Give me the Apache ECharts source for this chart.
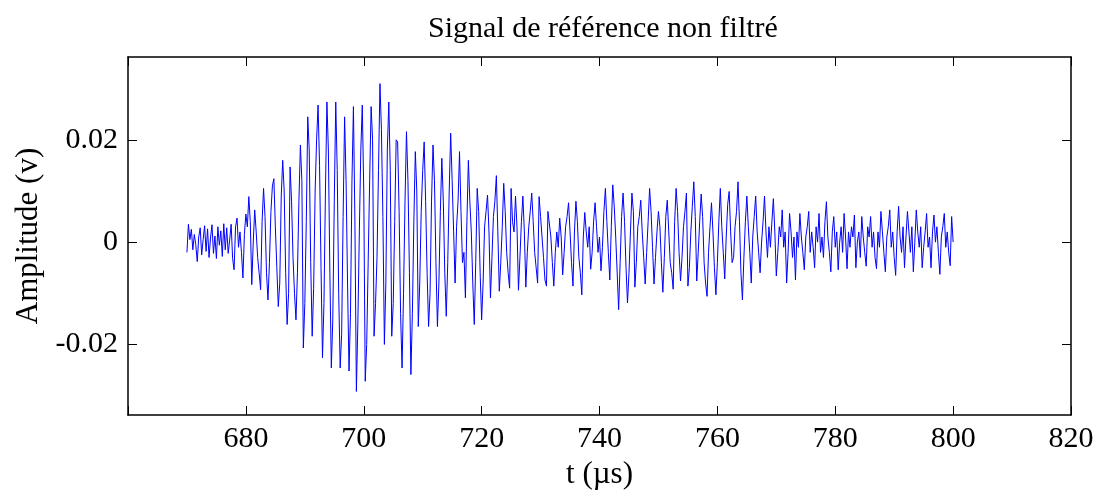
<!DOCTYPE html>
<html>
<head>
<meta charset="utf-8">
<script src="https://cdn.jsdelivr.net/npm/echarts@6/dist/echarts.min.js"></script>
<style>
html,body{margin:0;padding:0;background:#fff;}
#chart{width:1101px;height:493px;}
</style>
</head>
<body>
<div id="chart"></div>
<script>
// ---- data ----
const titleText = 'Signal de référence non filtré';
const xAxisName = 't (µs)';
const yAxisName = 'Amplitude (v)';
const xTickValues = [660, 680, 700, 720, 740, 760, 780, 800, 820];
const yTickValues = [-0.02, 0, 0.02];
const yTickLabels = ['-0.02', '0', '0.02'];
const sampleStart = 670;   // µs, first sample time
const sampleStep = 0.25;   // µs between samples
// amplitude in millivolts, one value per sample
const amplitudeMilliVolts = [
  -2, 3.5, 0.5, 2.5,   -1.5, 1.5, -0.5, -3.8,   1, 2.8, -2.5, 0.5,   3.2, -1.8, 2.6, -3,
  0.8, 3.4, -2.2, 1.2,   -3.2, 3, -0.6, 2.2,   -2.8, 3.6, -1.5, 2.8,   -2.2, 0.4, 3.5, -3.2,
  -5.4, 3, 4.7, -1,   2, -2, -7, 1.5,   5.5, 3, 8.9, 4,   -8.3, 0, 6.3, 2,
  -3, -6, -9.3, 4,   10.5, 5, -6, -11.3,   -4, 6, 11, 12.4,   3, -5, -12.6, -8,
  9, 16, 10, -6,   -16.1, -10, 14.7, 8,   -3, -10, -15.2, -6,   8, 19, 12, -20.7,
  -12, 4, 24.5, 18,   -4, -18.4, -9, 10,   20, 26.8, 15, -5,   -22.6, -12, 10, 27.4,
  18, -6, -24.6, -15,   8, 27.4, 14, -10,   -24.6, -18, 5, 24.5,   12, -8, -25.2, -14,
  12, 26.5, 4, -29.2,   -16, 2, 18, 26.8,   10, -27.2, -20, -4,   12, 26.5, 20, -18.4,
  -12, -3, 14, 31,   22, 5, -20, -8,   18, 27.4, 14, -18.4,   -12, 4, 20, 19.6,
  6, -14, -24.6, -10,   8, 21.6, 12, -6,   -25.9, -14, 4, 17.7,   10, -16.5, -8, 6,
  14, 19.6, 8, -6,   -16.5, -10, 8, 19,   12, -4, -16.5, -8,   6, 16.4, 8, -6,
  -14.5, -4, 10, 21.3,   12, 2, -8, 3,   8, 17.7, 6, -4,   -2, -10.9, 4, 16,
  8, 2, -8, -16.1,   -4, 10.5, 6, -6,   -15.2, -8, 3, 6,   9.2, 2, -10.9, -3,
  5, 8, 13, 2,   -9.6, -4, 3, 11.5,   6, -2, -6, -9,   10.5, 4, 2, 9,
  3, -9.4, -3, 4,   9, 2, -8.8, -2,   3, 6, 9.6, 4,   -2, -5, -8, 8.9,
  5, 1, -3, -7.4,   -8.6, 6, 5.7, 1,   -4, -8.6, -2, 2,   -1, 4.7, 1, -6.4,
  -2, 3, 5, 7.7,   2, -4, -8.6, 2,   8, 4, -3, -6,   -10.3, 1, 5.8, 2,
  -1, 3, -5.3, -2,   4, 7.7, 3, -2,   1, -5.6, -1, 6,   10.5, 4, -2, -7.4,
  3, 11.2, 7, 1,   -6, -13.2, -4, 5,   9.6, 4, -5, -11.9,   -6, 2, 9.6, 6,
  -8.8, -4, 3, 5,   8.2, 2, -3, -8.2,   -2, 4, 10.5, 6,   -1, -8.2, -3, 2,
  6, 3, -4, -9.8,   -3, 5, 8.2, 2,   -4, -6, -9.2, 4,   10.5, 6, -2, -7.6,
  -3, 3, 6, 9.6,   -8.6, -5, 2, 7,   11.8, 5, -7.6, -2,   4, 9.4, 5, -4,
  -8, -10.6, -2, 3,   7.7, 2, -5, -10.3,   -4, 4, 10.5, 3,   -2, -7.2, 1, 7.4,
  9.9, 2, -4, -3,   3, 6, 11.8, 4,   -6, -11.3, -3, 4,   9, 3, -2, -8,
  1, 5, 9, 2,   -2, -6, 0, 4,   9, 2, -3, 3,   -1, 4, 8.5, 2,
  -6.6, -2, 3, 1,   6.3, -1, 2, -8,   -2, 5.6, 2, -3,   1, -7.4, 2, -1,
  5.6, 1, -2, -5.4,   1, 3, 6, -2,   2, -1, -5, 3,   0, 5.6, -2, 1,
  -3, 4, 7.9, 1,   -2, -5.8, 2, 5,   -1, 2, -5.4, 0,   3, -2, 5.6, 1,
  -5.2, 2, -1, 3,   1, 5.3, -5, 0,   2, -3, 5, 1,   -2, -4.7, 3, 1,
  5, -1, 2, -3,   -5.2, 2, -1, 6,   2, -2, -5.8, 1,   3, 6.3, -1, 2,
  -3, -6.5, 2, 7,   1, -2, 3, -5,   1, 6, 2, -2,   3, -5.8, 0, 6.3,
  2, -1, 3, -5,   -1, 2, 5.6, -1,   1, -5, 2, 5.3,   0, 3, -2, -6.3,
  1, 3, 5.6, -1,   2, -2, -4.6, 5,
  0
];

// ---- build series points ----
const signalPoints = amplitudeMilliVolts.map((mv, i) => [sampleStart + i * sampleStep, mv / 1000]);

const serif = 'Liberation Serif';
const axisColor = '#000';

const chart = echarts.init(document.getElementById('chart'), null, {renderer: 'canvas'});
chart.setOption({
  animation: false,
  backgroundColor: '#fff',
  title: {
    text: titleText,
    left: 598,
    top: 9,
    textAlign: 'center',
    textStyle: {fontFamily: serif, fontSize: 30, fontWeight: 'normal', color: '#000'}
  },
  grid: {left: 128, right: 30, top: 57, bottom: 78, containLabel: false, outerBoundsMode: 'none'},
  xAxis: [
    {
      type: 'value', position: 'bottom', min: 660, max: 820, interval: 20,
      name: xAxisName, nameLocation: 'middle', nameGap: 44,
      nameTextStyle: {fontFamily: serif, fontSize: 31, color: '#000'},
      axisLine: {show: true, onZero: false, lineStyle: {color: axisColor, width: 1.5}},
      axisTick: {show: true, inside: true, length: 9, lineStyle: {color: axisColor, width: 1}},
      axisLabel: {
        show: true, margin: 9, fontFamily: serif, fontSize: 30, color: '#000',
        formatter: v => (v === 660 ? '' : String(v))
      },
      splitLine: {show: false}
    },
    {
      type: 'value', position: 'top', min: 660, max: 820, interval: 20,
      axisLine: {show: true, onZero: false, lineStyle: {color: axisColor, width: 1.5}},
      axisTick: {show: true, inside: true, length: 9, lineStyle: {color: axisColor, width: 1}},
      axisLabel: {show: false},
      splitLine: {show: false}
    }
  ],
  yAxis: [
    {
      type: 'value', position: 'left', min: -0.0338, max: 0.0362,
      name: yAxisName, nameLocation: 'middle', nameGap: 76, nameRotate: 90,
      nameTextStyle: {fontFamily: serif, fontSize: 31, color: '#000'},
      axisLine: {show: true, onZero: false, lineStyle: {color: axisColor, width: 1.5}},
      axisTick: {show: true, inside: true, length: 9, customValues: yTickValues, lineStyle: {color: axisColor, width: 1}},
      axisLabel: {
        show: true, margin: 10, fontFamily: serif, fontSize: 30, color: '#000',
        customValues: yTickValues,
        formatter: v => {
          const idx = yTickValues.findIndex(t => Math.abs(t - v) < 1e-9);
          return idx >= 0 ? yTickLabels[idx] : '';
        }
      },
      splitLine: {show: false}
    },
    {
      type: 'value', position: 'right', min: -0.0338, max: 0.0362,
      axisLine: {show: true, onZero: false, lineStyle: {color: axisColor, width: 1.5}},
      axisTick: {show: true, inside: true, length: 9, customValues: yTickValues, lineStyle: {color: axisColor, width: 1}},
      axisLabel: {show: false},
      splitLine: {show: false}
    }
  ],
  series: [{
    type: 'line',
    xAxisIndex: 0,
    yAxisIndex: 0,
    data: signalPoints,
    showSymbol: false,
    symbol: 'none',
    smooth: false,
    lineStyle: {color: '#0000ff', width: 1},
    silent: true
  }]
});
</script>
</body>
</html>
